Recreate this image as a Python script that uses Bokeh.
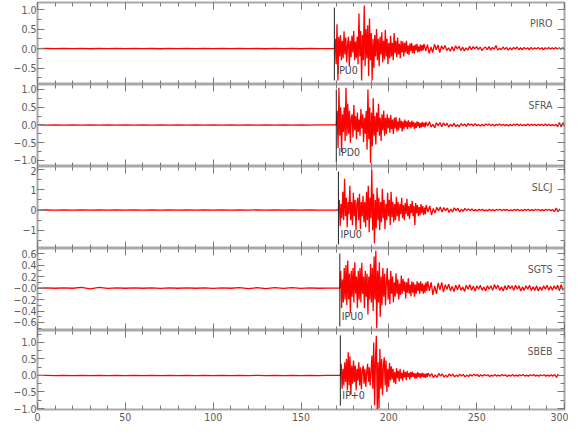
import numpy as np
from bokeh.plotting import figure
from bokeh.layouts import column
from bokeh.models import (Range1d, FixedTicker, Label, ColumnDataSource,
                          LinearAxis, CustomJSTickFormatter)
from bokeh.embed import file_html
from bokeh.resources import INLINE

# ---------------- data ----------------
stations = ["PIRO", "SFRA", "SLCJ", "SGTS", "SBEB"]
pick_labels = ["IPU0", "IPD0", "IPU0", "IPU0", "IP+0"]
pick_times = [169.0, 170.1, 171.3, 172.1, 172.4]
y_limits = [(-0.92, 1.18), (-1.17, 1.14), (-1.9, 2.15), (-0.74, 0.69), (-1.03, 1.36)]
y_major = [[-0.5, 0, 0.5, 1],
           [-1, -0.5, 0, 0.5, 1],
           [-1, 0, 1, 2],
           [-0.6, -0.4, -0.2, 0, 0.2, 0.4, 0.6],
           [-1, -0.5, 0, 0.5, 1]]
y_minor = [[-0.75, -0.5, -0.25, 0, 0.25, 0.5, 0.75, 1],
           [-1, -0.75, -0.5, -0.25, 0, 0.25, 0.5, 0.75, 1],
           [-1.5, -1, -0.5, 0, 0.5, 1, 1.5, 2],
           [-0.7, -0.6, -0.5, -0.4, -0.3, -0.2, -0.1, 0, 0.1, 0.2, 0.3, 0.4, 0.5, 0.6],
           [-1, -0.75, -0.5, -0.25, 0, 0.25, 0.5, 0.75, 1, 1.25]]
y_decimals = [1, 1, 0, 1, 1]
y_negzero = [False, False, False, True, False]
x_major = [0, 50, 100, 150, 200, 250, 300]
x_minor = [0, 10, 20, 30, 40, 50, 60, 70, 80, 90, 100, 110, 120, 130, 140, 150,
           160, 170, 180, 190, 200, 210, 220, 230, 240, 250, 260, 270, 280, 290, 300]

noise_dt = 5.0     # pre-event samples, from t = 0
active_dt = 0.5    # from the pick
tail_dt = 1.0      # after the active part

piro_noise = [0.0, 0.003, -0.003, 0.004, -0.002, 0.003, -0.004, 0.002, -0.003, 0.003, -0.002, 0.004,
              -0.003, 0.002, -0.004, 0.003, -0.003, 0.002, -0.003, 0.004, -0.002, 0.003, -0.003, 0.004,
              -0.003, 0.002, -0.004, 0.003, -0.003, 0.005, -0.004, 0.003, -0.003, 0.0]
piro_active = [0.0, 0.25, -0.4, 0.62, -0.82, 0.3, -0.2, 0.35,
               -0.3, 0.2, -0.25, 0.44, -0.15, 0.28, -0.35, 0.1, 0.3, -0.46, 0.2, -0.22, 0.33, -0.1, 0.45, -0.3, 0.18, -0.25,
               0.3, -0.4, 0.9, -0.2, 0.45, -0.82, 0.35, -0.3, 1.1, -0.45, 0.5, -0.25, 0.6, -0.7,
               0.77, -0.3, 0.4, -0.82, 0.25, -0.5, 0.35, -0.2,
               0.5, -0.3, 0.25, -0.45, 0.3, -0.15, 0.42, -0.35, 0.2, -0.28, 0.48, -0.2, 0.25, -0.4, 0.15, -0.25,
               0.33, -0.2, 0.15, -0.3, 0.4, -0.12, 0.2, -0.22, 0.28, -0.15, 0.12, -0.25, 0.2, -0.1, 0.18, -0.2,
               0.15, -0.1, 0.2, -0.14, 0.08, -0.16, 0.13, -0.06, 0.14, -0.12, 0.08, -0.13, 0.1, -0.05, 0.12, -0.1, 0.06, -0.08,
               0.1, -0.06, 0.09, -0.05]
piro_tail = [0.12, -0.06, 0.1, -0.13, 0.04, -0.1, 0.11, -0.03, 0.09, -0.1,
             0.07, -0.02, 0.08, -0.05, 0.02, -0.07, 0.05, -0.06, 0.07, -0.01, 0.06, -0.05, 0.04, -0.06, 0.02, -0.04, 0.06, -0.03, 0.05, -0.01, 0.05,
             -0.03, 0.04, -0.05, 0.01, 0.04, -0.03, 0.05, -0.04, 0.03, -0.02, 0.08, -0.04, 0.01, -0.03, 0.04, -0.02, 0.03, -0.04, 0.02, -0.03,
             0.03, -0.01, 0.04, -0.03, 0.02, -0.03, 0.03, -0.01, 0.02, -0.03, 0.03, -0.02, 0.02, -0.01, 0.03, -0.02, 0.02, -0.03, 0.02, -0.01,
             0.03, -0.02, 0.02, -0.01, 0.03, -0.02, 0.02, -0.02, 0.02, -0.02, 0.01]

sfra_noise = [0.0, -0.003, 0.003, -0.004, 0.003, -0.002, 0.003, -0.003, 0.004, -0.003, 0.002, -0.003,
              0.003, -0.004, 0.003, -0.002, 0.003, -0.003, 0.004, -0.003, 0.003, -0.002, 0.003, -0.004,
              0.003, -0.003, 0.002, -0.003, 0.004, -0.003, 0.003, -0.003, 0.004, 0.0]
sfra_active = [0.0, 0.4, -0.65, 1.05, -0.3, 0.5, -0.76, 0.3,
               -0.2, 0.5, -0.45, 1.05, -0.3, 0.6, -0.25, 0.4,
               -0.5, 0.2, 0.3, -0.35, 0.56, -0.15, 0.25, -0.4, 0.35, -0.2, 0.15, -0.3, 0.45, -0.1, 0.3, -0.48, 0.2, -0.25,
               0.4, -0.7, 1.0, -0.4, 0.5, -1.07, 0.35, -0.6,
               0.75, -0.3, 0.25, -0.55, 0.35, -0.2, 0.6, -0.3, 0.2, -0.45, 0.3, -0.15, 0.4, -0.3, 0.2, -0.25, 0.3, -0.1, 0.2, -0.22,
               0.28, -0.12, 0.15, -0.25, 0.2, -0.1, 0.22, -0.18, 0.1, -0.15, 0.2, -0.08, 0.12, -0.18, 0.1, -0.12, 0.15, -0.06, 0.1, -0.12,
               0.13, -0.06, 0.08, -0.1, 0.12, -0.05, 0.08, -0.12, 0.06, -0.08, 0.1, -0.04, 0.08, -0.09, 0.05, -0.07, 0.09, -0.05, 0.06, -0.07]
sfra_tail = [0.08, -0.03, 0.09, -0.06, 0.02, -0.08, 0.06, -0.02, 0.07, -0.05, 0.06, -0.03, 0.05, -0.06, 0.02, -0.04, 0.05, -0.05, 0.01, -0.05,
             0.04, -0.02, 0.03, -0.04, 0.04, -0.01, 0.03, -0.03, 0.04, -0.02, 0.01, -0.03, 0.02, -0.03, 0.03, -0.01, 0.03, -0.02, 0.02, -0.03,
             0.02, -0.01, 0.03, -0.02, 0.02, -0.02, 0.01, -0.03, 0.02, -0.02,
             0.02, -0.01, 0.03, -0.02, 0.02, -0.02, 0.01, -0.02, 0.03, -0.02, 0.02, -0.01, 0.02, -0.02, 0.02, -0.01, 0.02, -0.02, 0.03, -0.02,
             0.02, -0.02, 0.01, -0.02, 0.02,
             -0.05, 0.07, -0.06, 0.06, -0.05]

slcj_noise = [0.0, 0.006, -0.006, 0.005, -0.006, 0.006, -0.005, 0.006, -0.006, 0.005, -0.006, 0.006,
              -0.006, 0.005, -0.006, 0.006, -0.005, 0.006, -0.006, 0.005, -0.006, 0.006, -0.006, 0.005,
              -0.006, 0.006, -0.005, 0.006, -0.006, 0.006, -0.005, 0.006, -0.006, 0.0]
slcj_active = [0.0, 0.5, -0.8, 0.3,
               -0.4, 0.9, -0.5, 1.55, -0.3, 0.6, -0.85, 0.4, -0.2, 1.2, -0.5, 0.4,
               -0.75, 0.85, -0.3, 0.5, -1.0, 0.3, 0.6, -0.5, 0.8, -0.95, 0.4, -0.3, 0.7, -0.6, 0.4, -0.85,
               0.9, -0.5, 1.2, -1.1,
               0.6, -0.4, 2.0, -1.0, 0.8, -1.65, 0.5, -0.9,
               1.1, -0.5, 0.6, -1.0, 0.4, -0.6, 1.05, -0.4, 0.5, -0.95, 0.3, -0.5, 0.85, -0.3, 0.5, -0.75, 0.9, -0.35, 0.4, -0.6, 0.3, -0.5, 0.65, -0.3,
               0.4, -0.55, 0.3, -0.2, 0.6, -0.4, 0.25, -0.5, 0.35, -0.2, 0.55, -0.3, 0.2, -0.45, 0.3, -0.15, 0.45, -0.3, 0.2, -0.75, 0.35, -0.15, 0.25, -0.3, 0.15, -0.25,
               0.3, -0.15, 0.2, -0.25, 0.12, -0.2]
slcj_tail = [0.25, -0.1, 0.2, -0.25, 0.08,
             -0.15, 0.14, -0.05, 0.15, -0.1, 0.12, -0.04, 0.1, -0.12, 0.05, -0.1, 0.11, -0.03, 0.09, -0.1, 0.04, -0.07, 0.08, -0.02,
             0.05, -0.03, 0.05, -0.04, 0.02, -0.05, 0.04, -0.02, 0.04, -0.04, 0.01, -0.04, 0.04, -0.03, 0.02, -0.04, 0.03, -0.01, 0.04, -0.03,
             0.03, -0.02, 0.03, -0.04, 0.01, -0.03, 0.03, -0.02, 0.04, -0.03, 0.01, -0.03, 0.03, -0.02, 0.04, -0.03, 0.02, -0.03, 0.03, -0.01,
             0.03, -0.04, 0.02, -0.03, 0.03, -0.01, 0.03, -0.03, 0.02,
             -0.08, 0.1, -0.09, 0.06]

sgts_noise = [0.0, 0.003, -0.003, 0.004, -0.003, 0.012, -0.014, 0.012, -0.004, 0.003, -0.003, 0.004,
              -0.003, 0.003, -0.004, 0.003, -0.003, 0.004, -0.003, 0.003, -0.004, 0.003, -0.003, 0.007,
              -0.008, 0.006, -0.008, 0.007, -0.006, 0.008, -0.006, 0.004, -0.003, 0.0]
sgts_active = [0.0, 0.3, -0.35, 0.15, -0.25, 0.35,
               -0.2, 0.4, -0.3, 0.48, -0.2, 0.25, -0.44, 0.3, -0.15, 0.35, -0.25, 0.45, -0.1, 0.2, -0.35, 0.3,
               -0.2, 0.35, -0.25, 0.44, -0.1, 0.2, -0.35, 0.3, -0.15, 0.25, -0.46, 0.2, -0.2, 0.42,
               -0.25, 0.35, -0.4, 0.55, -0.2, 0.65, -0.7, 0.3, -0.25, 0.45, -0.5, 0.2,
               -0.3, 0.35, -0.15, 0.25, -0.3, 0.1, 0.35, -0.2, 0.15, -0.28, 0.3, -0.1, 0.2, -0.25, 0.1, -0.15, 0.26, -0.1,
               0.15, -0.2, 0.08, -0.12, 0.22, -0.1, 0.16, -0.06, 0.12, -0.18, 0.1, -0.08, 0.17, -0.1, 0.06, -0.14, 0.12, -0.08, 0.1, -0.15, 0.06, -0.1, 0.12, -0.05, 0.09, -0.1,
               0.12, -0.06, 0.08, -0.1, 0.06, -0.08, 0.1, -0.05]
sgts_tail = [0.12, -0.05, 0.1, -0.12, 0.04, -0.1, 0.09, -0.03, 0.1, -0.07,
             0.06, -0.02, 0.07, -0.05, 0.03, -0.06, 0.05, -0.03, 0.06, -0.04, 0.02, -0.06, 0.05, -0.02, 0.06, -0.04, 0.03, -0.05, 0.04, -0.02,
             0.05, -0.04, 0.02, -0.05, 0.04, -0.02, 0.04, -0.04, 0.06, -0.01, 0.05, -0.04, 0.02, -0.05, 0.04, -0.03, 0.05, -0.01, 0.04, -0.04,
             0.05, -0.02, 0.04, -0.05, 0.02, -0.04, 0.04, -0.02, 0.05, -0.04, 0.02, -0.04, 0.04, -0.05, 0.02, -0.04, 0.04, -0.02, 0.05, -0.04,
             0.03, -0.04, 0.04, -0.02, 0.05, -0.05, 0.06, -0.04]

sbeb_noise = [0.0, 0.003, -0.004, 0.003, -0.003, 0.004, -0.003, 0.003, -0.004, 0.003, -0.003, 0.004,
              -0.003, 0.003, -0.004, 0.003, -0.003, 0.004, -0.003, 0.003, -0.004, 0.003, -0.003, 0.004,
              -0.003, 0.003, -0.004, 0.003, -0.003, 0.004, -0.003, 0.003, -0.004, 0.0]
sbeb_active = [0.0, 0.35, -0.4, 0.2, -0.3, 0.4,
               -0.2, 0.5, -0.45, 0.7, -0.3, 0.58, -0.58, 0.3,
               -0.25, 0.45, -0.2, 0.3, -0.45, 0.2, -0.15, 0.4, -0.3, 0.25, -0.42, 0.15, 0.3, -0.25, 0.2, -0.35, 0.1, 0.35, -0.2, 0.25, -0.3, 0.15,
               0.6, -0.4, 1.0, -0.9, 0.5, 1.2, -1.03, 0.4, -1.0, 0.8, -0.4, 0.5,
               -0.6, 0.3, 0.55, -0.3, 0.45, -0.5, 0.2, -0.35, 0.38, -0.15,
               0.28, -0.12, 0.2, -0.22, 0.1, -0.26, 0.22, -0.08, 0.14, -0.18, 0.2, -0.1, 0.08, -0.16, 0.17, -0.06, 0.1, -0.14,
               0.14, -0.05, 0.08, -0.12, 0.1, -0.06, 0.12, -0.04, 0.07, -0.1, 0.06, -0.09, 0.1, -0.04, 0.06, -0.08, 0.07, -0.05, 0.08, -0.06, 0.05, -0.07, 0.06, -0.04]
sbeb_tail = [0.07, -0.03, 0.06, -0.07, 0.02, -0.06, 0.06, -0.02, 0.05, -0.05, 0.01, -0.05, 0.05, -0.02, 0.04, -0.04,
             0.01, -0.03, 0.04, -0.02, 0.03, -0.04, 0.01, -0.03, 0.03, -0.02, 0.04, -0.01, 0.03, -0.03, 0.02, -0.02, 0.03, -0.01,
             0.02, -0.03, 0.01, -0.02, 0.03, -0.02, 0.01, -0.02, 0.03, -0.01, 0.02, -0.03, 0.01, -0.02, 0.03, -0.02, 0.01, -0.02,
             0.02, -0.01, 0.03, -0.02, 0.01, -0.02, 0.02, -0.01, 0.03, -0.02, 0.01, -0.02, 0.02, -0.01, 0.02, -0.02, 0.01, -0.02,
             0.02, -0.02, 0.03, -0.06, 0.05]

noise_series = [piro_noise, sfra_noise, slcj_noise, sgts_noise, sbeb_noise]
active_series = [piro_active, sfra_active, slcj_active, sgts_active, sbeb_active]
tail_series = [piro_tail, sfra_tail, slcj_tail, sgts_tail, sbeb_tail]

# ---------------- styling ----------------
FONT = "DejaVu Sans Condensed"
FRAME = "#a9a9a9"
TICK = "#7a7a7a"
LABEL = "#5a5a5a"
FS = "10.5px"
frame_heights = [82, 82, 82, 82, 79]

x_range = Range1d(0, 300)
x_ticker = FixedTicker(ticks=x_major, minor_ticks=x_minor)
blank = CustomJSTickFormatter(code='return "";')


def style_axis(ax, show_labels):
    ax.axis_line_color = None
    ax.major_tick_in = 7
    ax.major_tick_out = 0
    ax.minor_tick_in = 4
    ax.minor_tick_out = 0
    ax.major_tick_line_color = TICK
    ax.minor_tick_line_color = TICK
    if show_labels:
        ax.major_label_text_font = FONT
        ax.major_label_text_font_size = FS
        ax.major_label_text_color = LABEL
    else:
        ax.formatter = blank
        ax.major_label_text_font_size = "1px"
        ax.major_label_standoff = 0


panels = []
n = len(stations)
for i in range(n):
    last = (i == n - 1)
    ymin, ymax = y_limits[i]
    p = figure(frame_width=527, frame_height=frame_heights[i],
               x_range=x_range, y_range=Range1d(ymin, ymax),
               x_axis_type=None, y_axis_type=None,
               toolbar_location=None, output_backend="svg",
               min_border_left=37, min_border_right=4,
               min_border_top=2 if i == 0 else 0,
               min_border_bottom=17 if last else 0)
    p.outline_line_color = FRAME
    p.outline_line_width = 2
    p.background_fill_color = "white"
    p.border_fill_color = "white"

    y_ticker = FixedTicker(ticks=y_major[i], minor_ticks=y_minor[i])
    fmt = CustomJSTickFormatter(args=dict(dec=y_decimals[i], nz=y_negzero[i]), code="""
        if (Math.abs(tick) < 1e-9) { return nz ? "\u22120.0" : (0).toFixed(dec); }
        return tick.toFixed(dec).replace("-", "\u2212");
    """)
    left = LinearAxis(ticker=y_ticker, formatter=fmt)
    style_axis(left, True)
    left.major_label_standoff = 1
    right = LinearAxis(ticker=y_ticker)
    style_axis(right, False)
    top = LinearAxis(ticker=x_ticker)
    style_axis(top, False)
    bottom = LinearAxis(ticker=x_ticker)
    style_axis(bottom, last)
    if last:
        bottom.major_label_standoff = 3
    p.add_layout(left, "left")
    p.add_layout(right, "right")
    p.add_layout(top, "above")
    p.add_layout(bottom, "below")

    noise = noise_series[i]
    active = active_series[i]
    tail = tail_series[i]
    onset = pick_times[i]
    t = np.concatenate([noise_dt * np.arange(len(noise)),
                        onset + active_dt * np.arange(len(active)),
                        onset + active_dt * len(active) + tail_dt * np.arange(len(tail))])
    v = np.concatenate([noise, active, tail])
    src = ColumnDataSource(dict(t=t, v=v))
    p.line("t", "v", source=src, line_color="#ff0000", line_width=1.3)

    span = ymax - ymin
    p.segment(x0=[onset], y0=[ymax - span * 5 / 81], x1=[onset], y1=[ymin + span * 4 / 81],
              line_color="#222222", line_width=1)

    p.add_layout(Label(x=300, y=ymax, x_offset=-12, y_offset=-20, text=stations[i],
                       text_align="right", text_baseline="middle",
                       text_font=FONT, text_font_size=FS, text_color=LABEL))
    p.add_layout(Label(x=onset, y=ymin, x_offset=2, y_offset=15, text=pick_labels[i],
                       text_align="left", text_baseline="middle",
                       text_font=FONT, text_font_size=FS, text_color="#444444"))
    panels.append(p)

layout = column(*panels, spacing=0)
open("out.html", "w").write(file_html(layout, INLINE))
